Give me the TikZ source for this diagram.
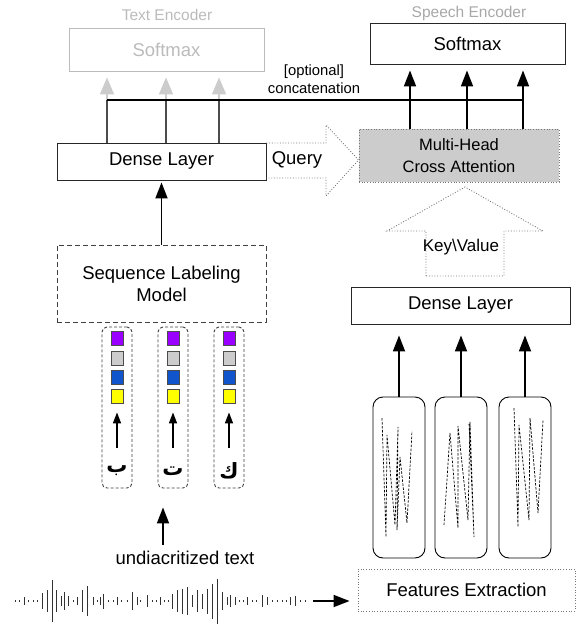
\documentclass[tikz,border=0pt]{standalone}
\usepackage{fontspec}
\setmainfont{Liberation Sans}
\newfontfamily\arabicfont[Script=Arabic]{DejaVu Sans}
\TeXXeTstate=1
\usetikzlibrary{arrows.meta,calc}

\definecolor{tokpurple}{HTML}{9900FF}
\definecolor{tokgray}{HTML}{CCCCCC}
\definecolor{tokblue}{HTML}{1155CC}
\definecolor{tokyellow}{HTML}{FFFF00}
\definecolor{faint}{HTML}{BBBBBB}
\definecolor{dotline}{HTML}{777777}

\tikzset{
  fs/.style={font=\fontsize{18.5}{22}\selectfont},
  smallfs/.style={font=\fontsize{15.5}{18}\selectfont},
  layer/.style={draw=black!85, line width=0.9pt, fs, align=center, inner sep=0pt},
  fadedlayer/.style={draw=faint, line width=0.9pt, fs, text=faint, inner sep=0pt},
  dottedbox/.style={draw=dotline, line width=0.9pt, dash pattern=on 0.9pt off 1.8pt},
  dashedbox/.style={draw=black!75, line width=0.9pt, dash pattern=on 5pt off 3pt},
  tokcol/.style={draw=black!75, line width=0.9pt, dash pattern=on 3pt off 2pt,
    rounded corners=5pt, minimum width=30pt, minimum height=161pt, inner sep=0pt},
  tok/.style={draw=black!70, line width=0.8pt, minimum width=12pt, minimum height=14pt, inner sep=0pt},
  frame/.style={draw=black, line width=0.9pt, rounded corners=10pt,
    minimum width=52pt, minimum height=161pt, inner sep=0pt},
  arr/.style={line width=1.8pt, -{Triangle[width=12pt,length=16pt]}},
  smallarr/.style={line width=1.5pt, -{Triangle[width=8pt,length=11pt]}},
  fadedarr/.style={draw=tokgray, line width=1.6pt, -{Triangle[width=14pt,length=17pt]}},
  zig/.style={line width=0.7pt, dash pattern=on 2.5pt off 1.5pt},
  wave/.style={line width=0.9pt, draw=black!80},
}

\begin{document}
\begin{tikzpicture}[x=1pt,y=-1pt]
\useasboundingbox (0,0) rectangle (578,626);

% ---------- text encoder (faded) ----------
\node[smallfs, text=faint] (telabel) at (167,15) {Text Encoder};
\node[fadedlayer, minimum width=195pt, minimum height=43pt] (tsm) at (166.5,49.5) {Softmax};

% ---------- speech encoder output ----------
\node[smallfs, text=faint!90!black] (selabel) at (469,13) {Speech Encoder};
\node[layer, minimum width=195pt, minimum height=41pt] (ssm) at (467.5,43.5) {Softmax};

% ---------- attention ----------
\node[dottedbox, fill=tokgray, minimum width=200pt, minimum height=53pt,
      font=\fontsize{16.5}{22}\selectfont, align=center, inner sep=0pt] (mhca) at (459,155.5)
      {Multi-Head\\Cross Attention};

% ---------- text branch ----------
\node[layer, minimum width=209pt, minimum height=37pt] (dl) at (161.5,161.5) {Dense Layer};
\node[dashedbox, fs, align=center, minimum width=209pt, minimum height=77pt, inner sep=0pt] (slm)
      at (161.5,283.5) {Sequence Labeling\\Model};

\foreach \i/\cx/\ch in {1/117/ب, 2/173/ت, 3/229/ك}{
  \node[tokcol] (col\i) at (\cx,407.5) {};
  \node[tok, fill=tokpurple] (tp\i) at (\cx,338) {};
  \node[tok, fill=tokgray]   (tg\i) at (\cx,358) {};
  \node[tok, fill=tokblue]   (tb\i) at (\cx,377) {};
  \node[tok, fill=tokyellow] (ty\i) at (\cx,396.5) {};
  \node[font=\fontsize{21}{24}\selectfont, inner sep=0pt] (ch\i) at (\cx,471)
      {\arabicfont\bfseries\beginR \ch\endR};
  \coordinate (cs\i) at (\cx,448);
  \draw[smallarr, shorten >=8.5pt] (cs\i) -- (ty\i.south);
}

\node[fs, inner sep=0pt] (ut) at (185,558) {undiacritized text};
\coordinate (utx) at (163,0);
\draw[arr, shorten <=6pt, shorten >=19pt] (ut.north -| utx) -- (col2.south -| utx);

\draw[arr, shorten >=2pt] (slm.north) -- (dl.south);

% ---------- text softmax feeds and optional concatenation ----------
\coordinate (g1) at (107,0);
\coordinate (g2) at (166,0);
\coordinate (g3) at (219,0);
\coordinate (cl) at (107,100);
\coordinate (cr) at (523,100);
\foreach \g in {g1,g2,g3}{
  \draw[fadedarr, shorten >=6pt] (dl.north -| \g) -- (tsm.south -| \g);
  \draw[line width=1.6pt, black!70] (dl.north -| \g) -- (cl -| \g);
}
\draw[line width=2pt, black] (cl) -- (cr);
\node[font=\fontsize{14.8}{18}\selectfont, align=center, inner sep=0pt] (optlabel) at (314,79)
      {[optional]\\concatenation};

\coordinate (s1) at (410,0);
\coordinate (s2) at (467,0);
\coordinate (s3) at (523,0);
\foreach \s in {s1,s2,s3}{
  \draw[arr, shorten >=6pt] (mhca.north -| \s) -- (ssm.south -| \s);
}

% ---------- query block arrow ----------
\draw[dottedbox] (dl.east |- 0,143) -- (326,143) -- (326,125) -- (mhca.west |- 0,160)
      -- (326,196) -- (326,178) -- (dl.east |- 0,178);
\node[fs, inner sep=0pt] (query) at (297,160) {Query};

% ---------- speech branch ----------
\node[layer, minimum width=219pt, minimum height=37pt] (drl) at (460.5,305.5) {Dense Layer};

\draw[dottedbox] (426,276) -- (426,231) -- (387,231) -- (465,187) -- (543,231)
      -- (504,231) -- (504,276) -- cycle;
\node[font=\fontsize{17}{20}\selectfont, inner sep=0pt] (kv) at (461,247) {Key\textbackslash Value};

\node[frame] (f1) at (399,477.5) {};
\node[frame] (f2) at (461,477.5) {};
\node[frame] (f3) at (525,477.5) {};
\foreach \f in {f1,f2,f3}{
  \draw[arr, shorten >=11pt] (\f.north) -- (\f.north |- drl.south);
}

% spectral traces inside the frames
\draw[zig] (382,418) -- (386,537) -- (387,435) -- (395,525) -- (398,427) -- (397,530)
      -- (400,457) -- (407,523) -- (412,431);
\draw[zig] (444,525) -- (450,433) -- (458,528) -- (458,426) -- (468,520) -- (470,422)
      -- (474,537) -- (469,423);
\draw[zig] (514,408) -- (518,527) -- (519,425) -- (529,520) -- (530,418) -- (538,513)
      -- (543,420);

\node[dottedbox, fs, minimum width=217pt, minimum height=42pt, inner sep=0pt] (fe)
      at (466.5,590) {Features Extraction};

% ---------- waveform ----------
\foreach \wx/\wh in {15/1.5, 19/1.5, 24/8, 28/1.5, 33/1.5, 37/1.5, 42/16, 47/22, 52/42,
    56/22, 61/10, 64/18, 68/10, 73/1.5, 77/8, 82/22, 87/30, 93/8, 97/1.5, 100/8, 103/15,
    108/1.5, 113/1.5, 117/8, 121/1.5, 127/1.5, 132/18, 137/8, 140/1.5, 147/12, 152/1.5,
    156/1.5, 160/8, 164/1.5, 168/1.5, 172/15, 177/22, 182/25, 187/28, 192/12, 197/22,
    202/15, 207/25, 212/35, 217/45, 222/18, 227/8, 230/12, 235/8, 239/1.5, 243/1.5,
    247/8, 252/1.5, 256/1.5, 262/12, 267/8, 272/1.5, 277/1.5, 282/1.5, 286/1.5,
    290/8, 295/10, 300/1.5, 305/1.5}{
  \draw[wave] (\wx,601-\wh/2) -- (\wx,601+\wh/2);
}
\coordinate (wend) at (313,601);
\draw[arr, shorten >=8pt] (wend) -- (fe.west |- wend);

\end{tikzpicture}
\end{document}
